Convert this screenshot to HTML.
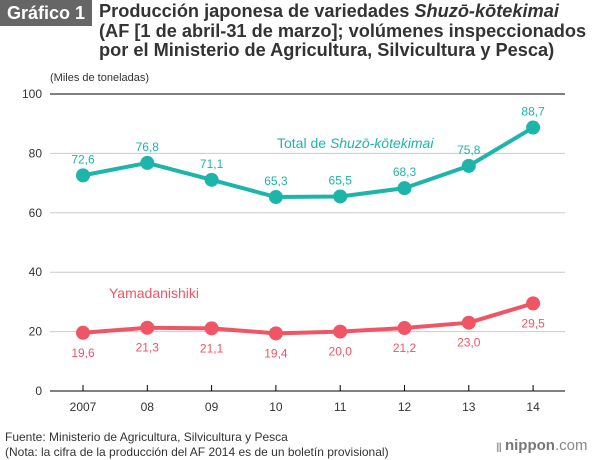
<!DOCTYPE html>
<html><head><meta charset="utf-8"><style>
body{margin:0;width:600px;height:460px;background:#fff;font-family:"Liberation Sans",Arial,sans-serif;overflow:hidden;position:relative}
.t{position:absolute;white-space:nowrap}
</style></head><body>
<div class="t" style="left:0;top:0;width:92px;height:26px;background:#666;color:#fff;font-weight:bold;font-size:18px;line-height:26px;text-align:center">Gráfico 1</div>
<div class="t" style="left:99px;top:2px;font-weight:bold;font-size:18.2px;line-height:19.5px;color:#333">Producción japonesa de variedades <i>Shuzō-kōtekimai</i><br>(AF [1 de abril-31 de marzo]; volúmenes inspeccionados<br>por el Ministerio de Agricultura, Silvicultura y Pesca)</div>
<svg id="c" width="600" height="460" style="position:absolute;left:0;top:0"></svg>
<div class="t" style="left:5px;top:430px;font-size:12px;line-height:15px;color:#333">Fuente: Ministerio de Agricultura, Silvicultura y Pesca<br>(Nota: la cifra de la producción del AF 2014 es de un boletín provisional)</div>
<div class="t" style="left:496px;top:437px;font-size:15px;line-height:18px;color:#888"><span style="font-size:10px;letter-spacing:-1px">|||</span> <b style="color:#777">nippon</b>.com</div>
<script>
const categories=["2007","08","09","10","11","12","13","14"];
const totalValues=[72.6,76.8,71.1,65.3,65.5,68.3,75.8,88.7];
const yamadaValues=[19.6,21.3,21.1,19.4,20.0,21.2,23.0,29.5];
const yTicks=[0,20,40,60,80,100];
const svg=document.getElementById('c');const NS='http://www.w3.org/2000/svg';
function x(i){return 83+i*64.3;}
function y(v){return 391-v*2.97;}
function mk(t,a,p){const e=document.createElementNS(NS,t);for(const k in a)e.setAttribute(k,a[k]);(p||svg).appendChild(e);return e;}
let yl=mk('text',{x:50,y:81,'font-size':11,fill:'#333'});yl.textContent='(Miles de toneladas)';


yTicks.forEach(v=>{
 const l=mk('line',{x1:50,x2:565,y1:y(v),y2:y(v),stroke:(v==0||v==100)?'#000':'#ccc','stroke-width':1});
 
 
 const t=mk('text',{x:42,y:y(v)+4,'text-anchor':'end','font-size':12,fill:'#333'});t.textContent=v;
 
 
});
categories.forEach((c,i)=>{
 const tk=mk('line',{x1:x(i),x2:x(i),y1:y(0),y2:y(0)-6,stroke:'#000'});
 
 
 const t=mk('text',{x:x(i),y:411,'text-anchor':'middle','font-size':12,fill:'#333'});t.textContent=c;
 
 
});
function series(vals,col,name,above){
 const p=mk('polyline',{points:vals.map((v,i)=>x(i)+','+y(v)).join(' '),fill:'none',stroke:col,'stroke-width':4,'stroke-linejoin':'round'});
 
 
 vals.forEach((v,i)=>{
  const c=mk('circle',{cx:x(i),cy:y(v),r:7,fill:col});
  
  
  const t=mk('text',{x:x(i),y:above?y(v)-12:y(v)+24,'text-anchor':'middle','font-size':12,fill:col});
  t.textContent=v.toFixed(1).replace('.',',');
  
  
 });
}
series(totalValues,'#1db5a9','total',true);
series(yamadaValues,'#ef5565','yamadanishiki',false);
let l1=mk('text',{x:277,y:148,'font-size':14,fill:'#1db5a9'});l1.innerHTML='Total de <tspan font-style="italic">Shuzō-kōtekimai</tspan>';


let l2=mk('text',{x:109,y:298,'font-size':14,fill:'#ef5565'});l2.textContent='Yamadanishiki';


</script>
</body></html>
